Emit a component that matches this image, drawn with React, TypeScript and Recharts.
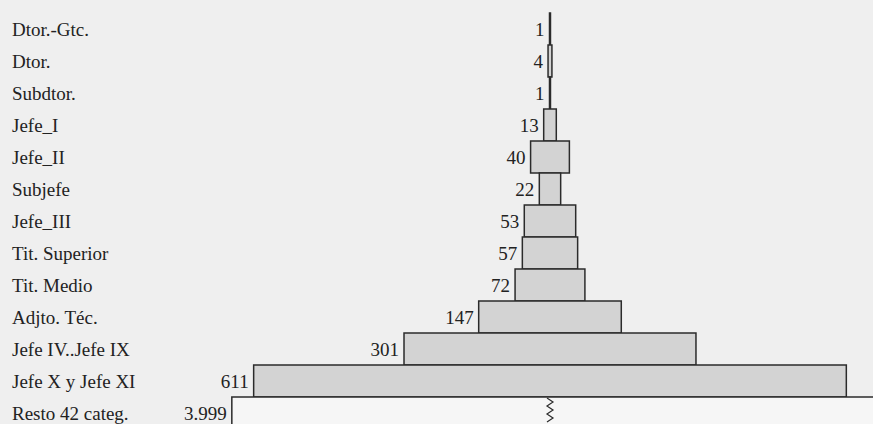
import React from "react";
import { BarChart, Bar, XAxis, YAxis, LabelList } from "recharts";

// Categories (top to bottom) and employee counts
const categories = [
  "Dtor.-Gtc.",
  "Dtor.",
  "Subdtor.",
  "Jefe_I",
  "Jefe_II",
  "Subjefe",
  "Jefe_III",
  "Tit. Superior",
  "Tit. Medio",
  "Adjto. Téc.",
  "Jefe IV..Jefe IX",
  "Jefe X y Jefe XI",
  "Resto 42 categ.",
];
const counts = [1, 4, 1, 13, 40, 22, 53, 57, 72, 147, 301, 611, 3999];
// Last bar is drawn with an axis break: only this many units shown on the left half
const brokenIndex = 12;
const brokenShownWidth = 656;
const axisDomain = [-567, 333];

const fmt = (v: number) => String(v).replace(/\B(?=(\d{3})+(?!\d))/g, ".");

const data = categories.map((name, i) => {
  const v = counts[i];
  const broken = i === brokenIndex;
  const lo = broken ? -brokenShownWidth / 2 : -v / 2;
  const hi = broken ? v - brokenShownWidth / 2 : v / 2;
  return { name, count: v, range: [lo, hi], broken };
});

const FONT = "Liberation Serif";
const STROKE = "#2b2b2b";

const BarShape = (props: any) => {
  const { x, y, width, height, payload } = props;
  if (payload && payload.broken) {
    const [lo, hi] = payload.range;
    const ppu = width / (hi - lo);
    const cx = x + (0 - lo) * ppu;
    const pts: string[] = [];
    let k = 0;
    for (let yy = y + 1; yy <= y + height - 4; yy += 4) {
      pts.push(`${cx + (k % 2 === 0 ? -3 : 3)},${yy}`);
      k++;
    }
    return (
      <g>
        <rect x={x} y={y} width={width} height={height} fill="#f6f6f6" stroke={STROKE} strokeWidth={1.5} />
        <polyline points={pts.join(" ")} fill="none" stroke={STROKE} strokeWidth={1.2} />
      </g>
    );
  }
  return <rect x={x} y={y} width={width} height={height} fill="#d3d3d3" stroke={STROKE} strokeWidth={1.5} />;
};

export default function App() {
  return (
    <div
      style={{
        position: "absolute",
        top: 0,
        left: 0,
        width: 873,
        height: 424,
        overflow: "hidden",
        background: "#efefef",
        fontFamily: FONT,
      }}
    >
      <BarChart
        width={873}
        height={430}
        data={data}
        layout="vertical"
        margin={{ top: 13, right: 0, bottom: 1, left: 0 }}
        barCategoryGap={0}
        style={{ fontFamily: FONT }}
      >
        <XAxis type="number" domain={axisDomain} hide allowDataOverflow />
        <YAxis
          type="category"
          dataKey="name"
          mirror
          width={220}
          axisLine={false}
          tickLine={false}
          tickSize={0}
          tickMargin={12}
          interval={0}
          tick={{ fontFamily: FONT, fontSize: 19, fill: "#222", style: { fontFamily: FONT } }}
        />
        <Bar dataKey="range" shape={<BarShape />} isAnimationActive={false}>
          <LabelList
            dataKey="count"
            position="left"
            offset={5}
            formatter={(v: any) => fmt(Number(v))}
            fontFamily={FONT}
            fontSize={19}
            fill="#222"
            style={{ fontFamily: FONT, fontSize: 19, fill: "#222" }}
          />
        </Bar>
      </BarChart>
    </div>
  );
}
